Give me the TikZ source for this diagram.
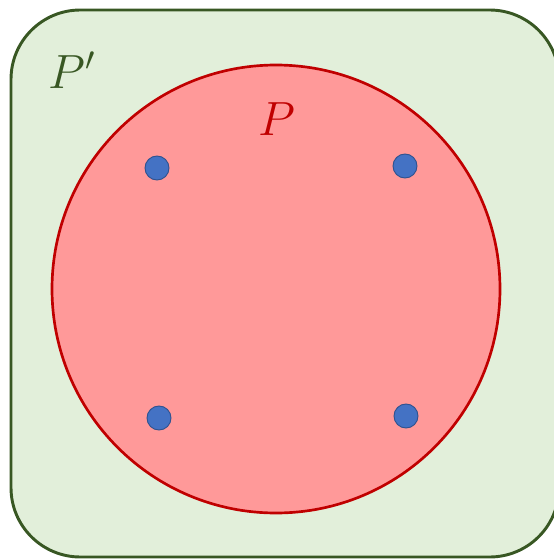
\RequirePackage{fix-cm}
\documentclass[tikz,border=0pt]{standalone}
\definecolor{setgreen}{RGB}{226,239,218}
\definecolor{darkgreen}{RGB}{56,87,35}
\definecolor{setred}{RGB}{255,153,153}
\definecolor{darkred}{RGB}{192,0,0}
\definecolor{pointblue}{RGB}{68,114,196}
\definecolor{pointedge}{RGB}{47,82,143}
\tikzset{
  outerset/.style={draw=darkgreen, line width=2.2pt, fill=setgreen,
    rounded corners=52pt},
  innerset/.style={circle, draw=darkred, line width=2pt, fill=setred,
    minimum size=336pt, inner sep=0pt},
  point/.style={circle, draw=pointedge, line width=0.7pt, fill=pointblue,
    minimum size=18pt, inner sep=0pt},
  setlabel/.style={font=\fontsize{36}{42}\selectfont},
}

\begin{document}
\begin{tikzpicture}[x=0.75pt, y=-0.75pt]
  \useasboundingbox (0,0) rectangle (553,560);
  \draw[outerset] (11,10) rectangle (559,557);
  \node[innerset] (p) at (276,289) {};
  \node[setlabel, text=darkgreen] (plabel) at (72,70) {$P'$};
  \node[setlabel, text=darkred] (qlabel) at (277,119) {$P$};
  % the four points
  \node[point] (a) at (157,168) {};
  \node[point] (b) at (405,166) {};
  \node[point] (c) at (159,418) {};
  \node[point] (d) at (406,416) {};
\end{tikzpicture}
\end{document}
